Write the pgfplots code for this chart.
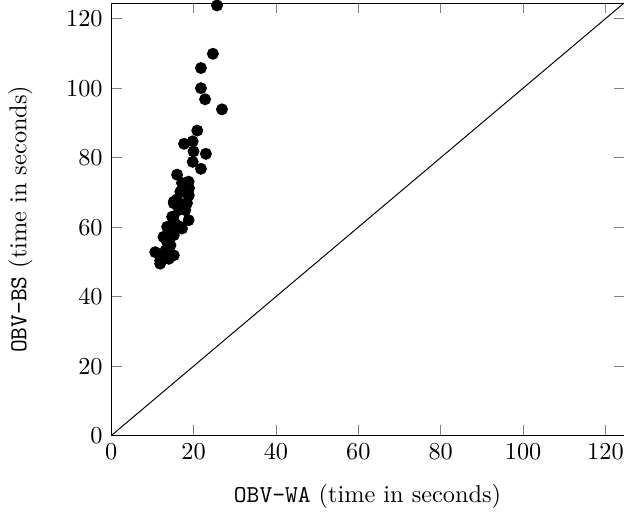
\documentclass[border=0pt]{standalone}
\usepackage{pgfplots}
\pgfplotsset{compat=1.18}
\begin{document}
\begin{tikzpicture}[trim right=(current axis.east)]
\begin{axis}[
  width=211pt, height=178pt, scale only axis=true,
  xmin=0, xmax=124.5, ymin=0, ymax=124.5,
  xtick={0,20,40,60,80,100,120},
  ytick={0,20,40,60,80,100,120},
  xlabel={\texttt{OBV-WA} (time in seconds)},
  ylabel={\texttt{OBV-BS} (time in seconds)},
  ylabel shift=7pt,
  xlabel shift=3pt,
  clip=false,
]
\addplot[black, thin, no marks] coordinates {(0,0) (124.5,124.5)};
\addplot[only marks, mark=*, mark size=2.25pt, black] coordinates {
(25.7,123.8) (24.7,109.9) (21.8,105.8) (21.8,100) (22.8,96.8) (26.9,93.9)
(20.9,87.8) (17.7,84) (19.8,84.7) (20,81.8) (23,81.1) (19.8,78.8)
(21.8,76.8) (16,75.1) (18.8,73.1) (17.2,72.7) (18.9,71.2) (16.8,70.2)
(18.8,69) (15.2,67.3) (17.6,65.9) (18.4,66.9) (15.1,63) (18.8,62)
(17.2,59.6) (14,60.1) (12.7,57.2) (15.2,58.6) (10.7,52.8) (15.2,51.9)
(11.9,49.5) (14,50.9) (13.2,53.3) (14.4,54.8) (18.4,72.7) (18.8,69.3)
(15.2,66.9) (17.6,66.4) (18,64.9) (14.8,63) (13.6,60.1) (16.8,60.1)
(15.2,57.7) (14,54.8) (14.8,51.9) (11.9,50.4) (13.2,52.4) (16.5,65)
(15.5,61) (14,57) (13.5,56) (16,68)
};
\end{axis}
\end{tikzpicture}
\end{document}
